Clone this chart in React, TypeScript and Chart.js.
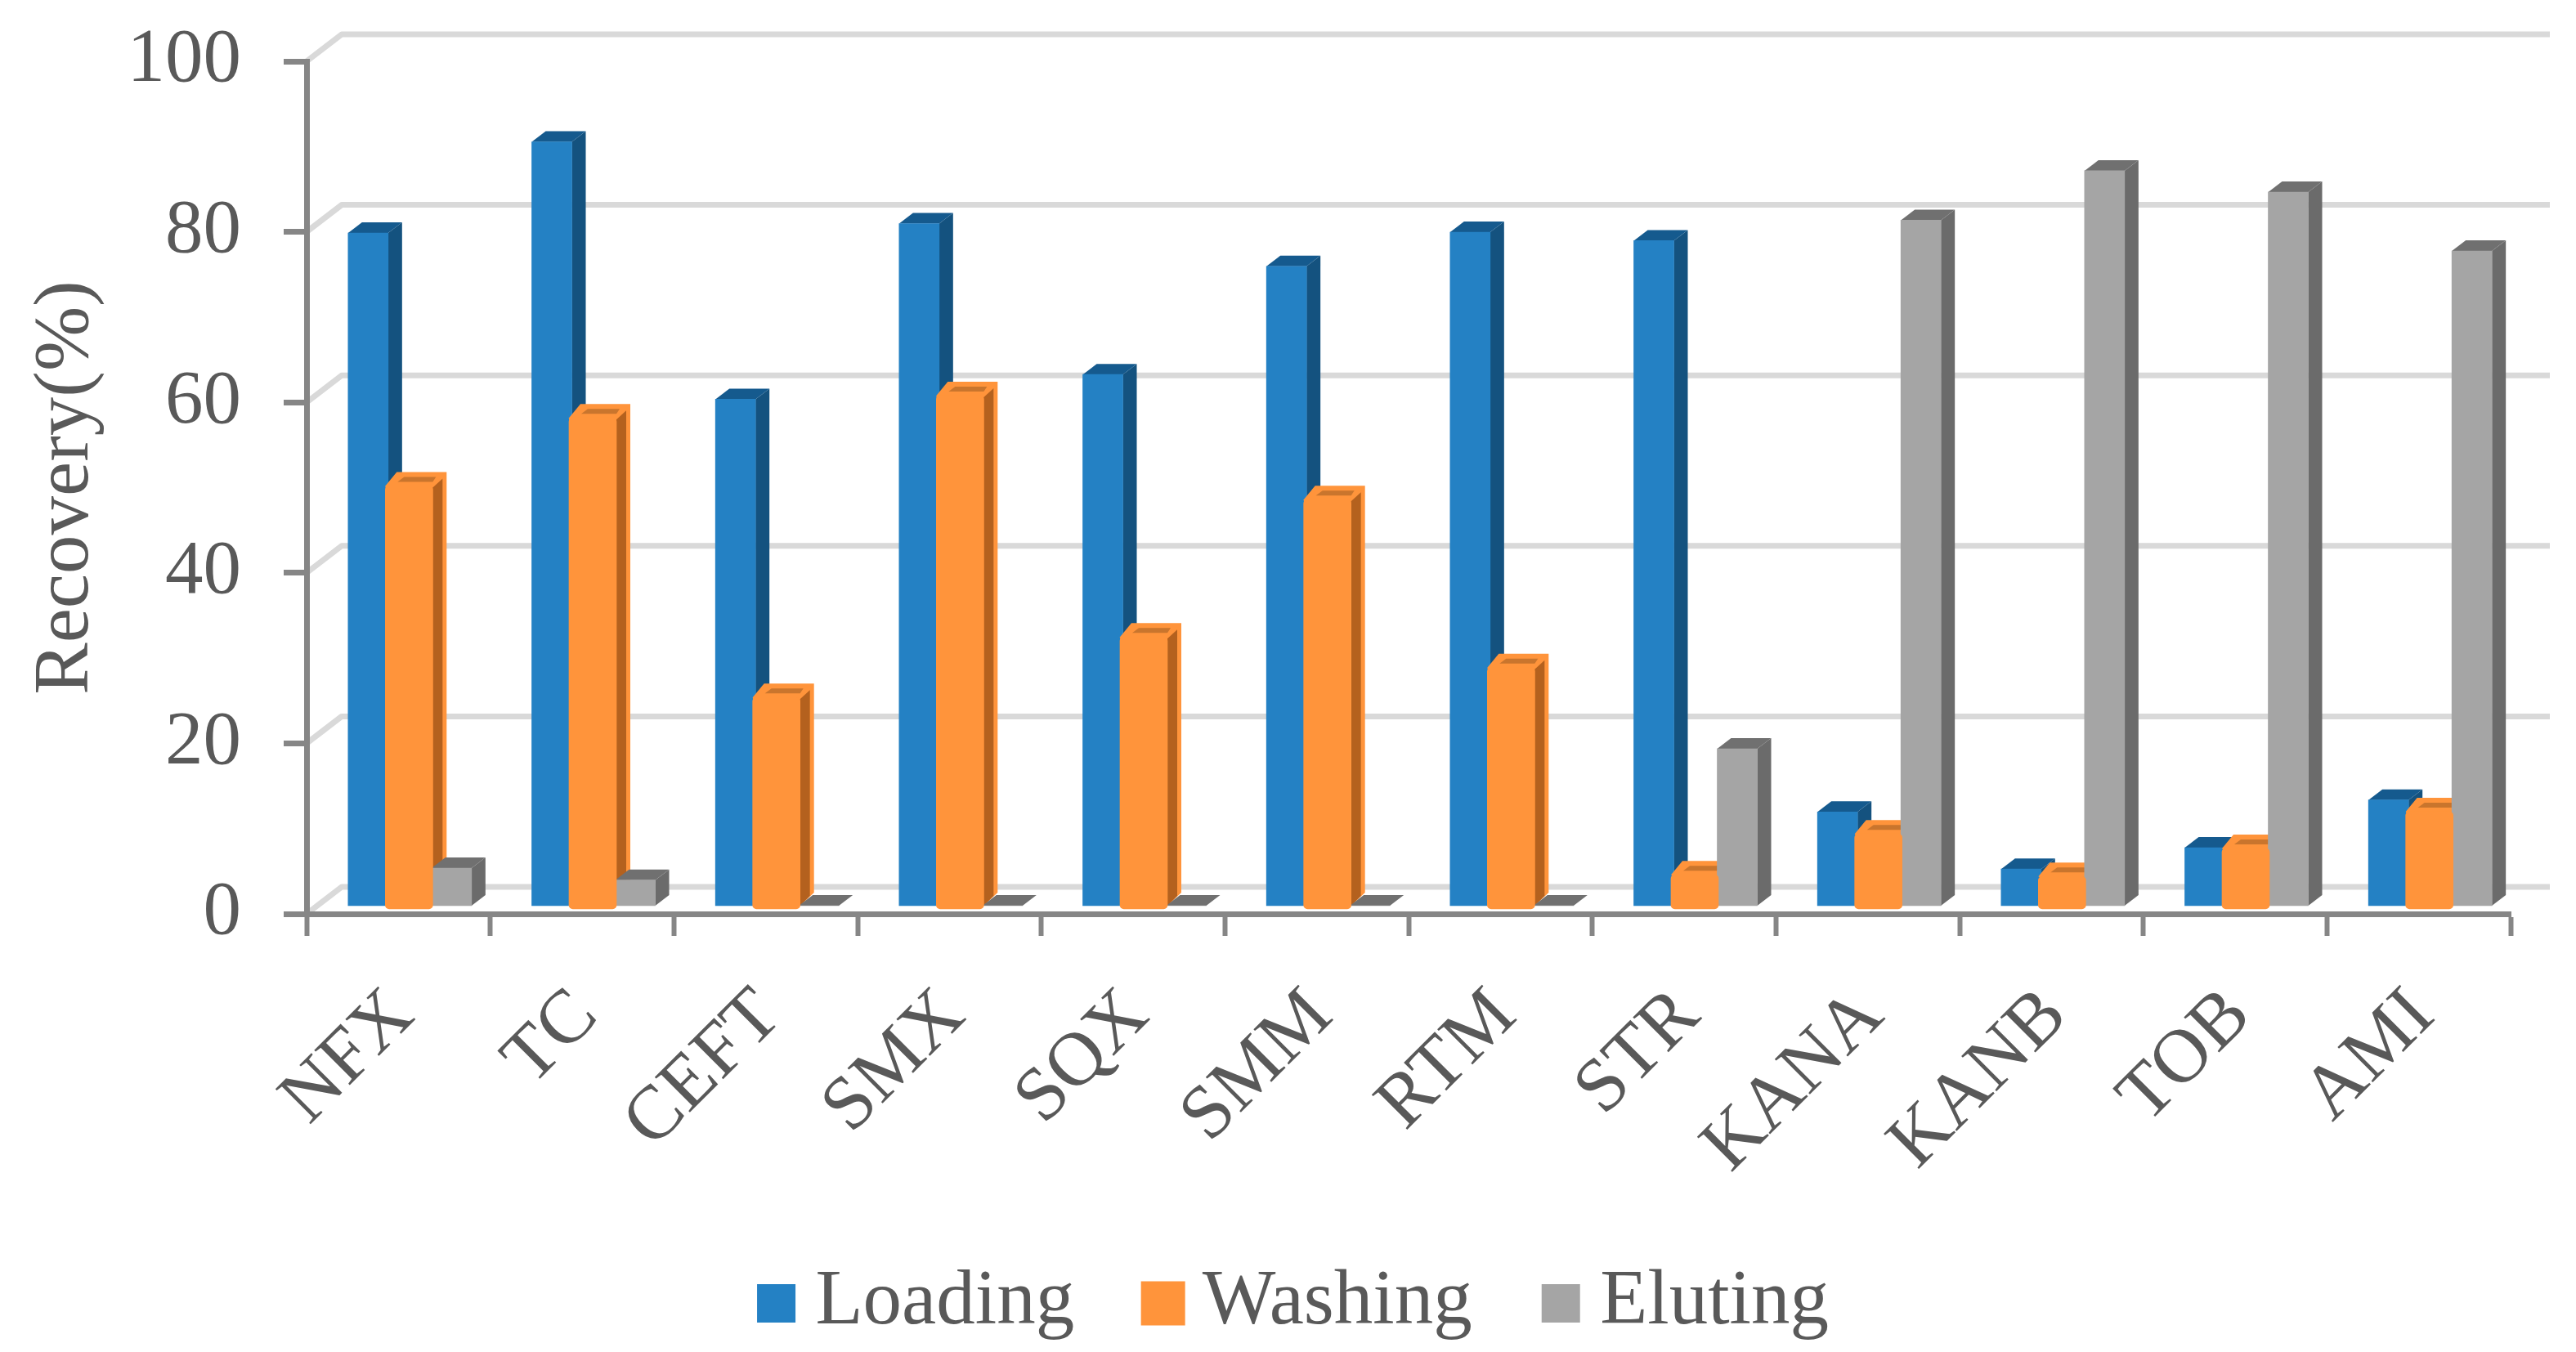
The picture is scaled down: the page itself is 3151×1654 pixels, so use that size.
import React, { useEffect, useRef } from "react";
import { Chart, registerables } from "chart.js";

Chart.register(...registerables);

const categories = ["NFX", "TC", "CEFT", "SMX", "SQX", "SMM", "RTM", "STR", "KANA", "KANB", "TOB", "AMI"];
const loading = [78.9, 89.6, 59.4, 80.0, 62.3, 75.0, 79.0, 78.0, 11.0, 4.3, 6.8, 12.4];
const washing = [49.6, 57.6, 24.8, 60.2, 31.9, 48.0, 28.3, 4.0, 8.8, 3.8, 7.1, 11.4];
const eluting = [4.4, 3.0, 0, 0, 0, 0, 0, 18.4, 80.4, 86.2, 83.7, 76.8];
const yTicks = [0, 20, 40, 60, 80, 100];

const FONT = "'Liberation Serif', 'Times New Roman', serif";
const TEXT = "#595959";
const AXIS = "#868686";
const WALL = "#d9d9d9";
const BLUE = { front: "#2481c4", side: "#14527f", top: "#155a8e" };
const ORANGE = { front: "#ff943b", side: "#b4611e", strip: "#c9752d" };
const GREY = { front: "#a5a5a5", side: "#6b6b6b", top: "#707070" };

const seriesShift = [-37, 13, 65];
const depthX = 17;
const depthY = 13;
const PAD_BOTTOM = 2;

const poly = (ctx: CanvasRenderingContext2D, pts: number[][], fill: string) => {
  ctx.beginPath();
  pts.forEach(([x, y], i) => (i ? ctx.lineTo(x, y) : ctx.moveTo(x, y)));
  ctx.closePath();
  ctx.fillStyle = fill;
  ctx.fill();
};

const drawBox = (ctx: CanvasRenderingContext2D, meta: any, c: { side: string; top: string }) => {
  meta.data.forEach((el: any) => {
    const x0 = el.x - el.width / 2;
    const x1 = el.x + el.width / 2;
    poly(ctx, [[x1, el.y], [x1 + depthX, el.y - depthY], [x1 + depthX, el.base - depthY], [x1, el.base]], c.side);
    poly(ctx, [[x0, el.y], [x0 + depthX, el.y - depthY], [x1 + depthX, el.y - depthY], [x1, el.y]], c.top);
  });
};

const drawOrangeBox = (ctx: CanvasRenderingContext2D, meta: any) => {
  meta.data.forEach((el: any) => {
    const x0 = el.x - el.width / 2;
    const x1 = el.x + el.width / 2;
    const y = el.y;
    const b = el.base;
    poly(ctx, [[x0, y], [x0 + 14, y - 17], [x1 + 17, y - 17], [x1 + 17, b - 20], [x1, b - 4]], ORANGE.front);
    poly(ctx, [[x1, y + 2], [x1 + 12, y - 9], [x1 + 12, b - 16], [x1, b - 4]], ORANGE.side);
    poly(ctx, [[x0 + 23, y - 11], [x1 + 4, y - 11], [x1, y - 5], [x0 + 15, y - 5]], ORANGE.strip);
  });
};

const depthPlugin = {
  id: "depth",
  afterDatasetsUpdate(chart: any) {
    seriesShift.forEach((dx, i) => {
      chart.getDatasetMeta(i).data.forEach((el: any) => {
        el.x += dx;
      });
    });
  },
  beforeDraw(chart: any) {
    const { ctx, chartArea, scales } = chart;
    ctx.save();
    ctx.strokeStyle = WALL;
    ctx.lineWidth = 7;
    ctx.lineJoin = "round";
    scales.y.ticks.forEach((t: any) => {
      const y = scales.y.getPixelForValue(t.value);
      ctx.beginPath();
      ctx.moveTo(chartArea.left, y);
      ctx.lineTo(chartArea.left + 43, y - 33);
      ctx.lineTo(chartArea.right + 48, y - 33);
      ctx.stroke();
    });
    ctx.restore();
  },
  beforeDatasetDraw(chart: any, args: any) {
    const { ctx } = chart;
    if (args.index === 0) drawBox(ctx, args.meta, BLUE);
    if (args.index === 2) {
      drawOrangeBox(ctx, chart.getDatasetMeta(1));
      drawBox(ctx, args.meta, GREY);
    }
  },
};

export default function App() {
  const ref = useRef<HTMLCanvasElement>(null);
  useEffect(() => {
    const chart = new Chart(ref.current as HTMLCanvasElement, {
      type: "bar",
      data: {
        labels: categories,
        datasets: [
          { label: "Loading", data: loading, yAxisID: "yBase", backgroundColor: BLUE.front, barThickness: 49, order: 3, grouped: false },
          {
            label: "Washing",
            data: washing,
            yAxisID: "yOrange",
            backgroundColor: ORANGE.front,
            barThickness: 58,
            order: 1,
            borderRadius: 5,
            borderSkipped: false,
            grouped: false,
          },
          { label: "Eluting", data: eluting, yAxisID: "yBase", backgroundColor: GREY.front, barThickness: 49, order: 2, grouped: false },
        ],
      } as any,
      plugins: [depthPlugin],
      options: {
        animation: false,
        responsive: false,
        devicePixelRatio: 1,
        layout: { padding: { left: 35, right: 0, top: 75, bottom: PAD_BOTTOM } },
        plugins: {
          tooltip: { enabled: false },
          title: { display: false },
          legend: {
            position: "bottom",
            labels: {
              boxWidth: 1,
              boxHeight: 1,
              padding: 108,
              color: TEXT,
              font: { family: FONT, size: 95 },
              generateLabels: () => [
                { text: "Loading", fillStyle: BLUE.front, strokeStyle: BLUE.front, lineWidth: 46, datasetIndex: 0, fontColor: TEXT },
                { text: "Washing", fillStyle: ORANGE.front, strokeStyle: ORANGE.front, lineWidth: 53, datasetIndex: 1, fontColor: TEXT },
                { text: "Eluting", fillStyle: GREY.front, strokeStyle: GREY.front, lineWidth: 46, datasetIndex: 2, fontColor: TEXT },
              ],
            },
          },
        },
        scales: {
          x: {
            type: "category",
            grid: { display: true, drawOnChartArea: false, drawTicks: true, offset: true, tickLength: 27, tickColor: AXIS, tickWidth: 6 },
            border: { display: true, color: AXIS, width: 7 },
            ticks: {
              autoSkip: false,
              minRotation: 45,
              maxRotation: 45,
              padding: 44,
              labelOffset: 5,
              color: TEXT,
              font: { family: FONT, size: 93 },
            },
            afterFit(s: any) {
              s.height = 1654 - 1118 - (s.chart.legend?.height ?? 0) - PAD_BOTTOM;
              s.paddingLeft = 0;
              s.paddingRight = 0;
            },
          },
          y: {
            type: "linear",
            position: "left",
            min: yTicks[0],
            max: yTicks[yTicks.length - 1],
            afterBuildTicks(s: any) {
              s.ticks = yTicks.map((value) => ({ value }));
            },
            grid: { display: true, drawOnChartArea: false, drawTicks: true, tickLength: 28, tickColor: AXIS, tickWidth: 7 },
            border: { display: true, color: AXIS, width: 7 },
            ticks: { padding: 52, color: TEXT, font: { family: FONT, size: 93 } },
            title: {
              display: true,
              text: "Recovery(%)",
              color: TEXT,
              font: { family: FONT, size: 95, lineHeight: 1 },
              padding: 0,
            },
            afterFit(s: any) {
              s.width = 340;
              s.paddingTop = 0;
              s.paddingBottom = 0;
            },
          },
          yBase: {
            type: "linear",
            position: "right",
            min: -0.96,
            max: 99.04,
            ticks: { display: false },
            grid: { display: false },
            border: { display: false },
            afterFit(s: any) {
              s.width = 80;
              s.paddingTop = 0;
              s.paddingBottom = 0;
            },
          },
          yOrange: { type: "linear", display: false, min: -0.58, max: 99.42 },
        },
      } as any,
    });
    return () => chart.destroy();
  }, []);
  return (
    <canvas
      ref={ref}
      width={3151}
      height={1654}
      style={{ position: "fixed", left: 0, top: 0, width: 3151, height: 1654, background: "#fff" }}
    />
  );
}
